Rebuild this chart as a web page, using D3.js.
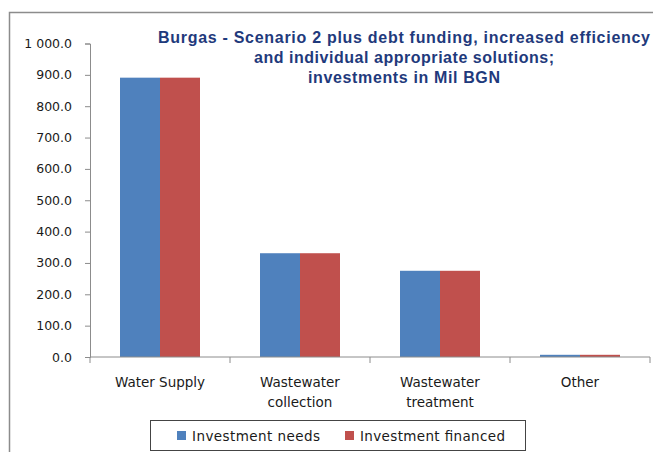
<!DOCTYPE html>
<html>
<head>
<meta charset="utf-8">
<script src="https://cdn.jsdelivr.net/npm/d3@7.9.0/dist/d3.min.js"></script>
<style>
  body { margin: 0; background: #fff; }
  svg { display: block; }
</style>
</head>
<body>
<div id="chart"></div>
<script>
// data
const categories = ['Water Supply', 'Wastewater collection', 'Wastewater treatment', 'Other'];
const categoryLines = [['Water Supply'], ['Wastewater', 'collection'], ['Wastewater', 'treatment'], ['Other']];
const seriesNames = ['Investment needs', 'Investment financed'];
const needs = [891, 331, 275, 7];
const financed = [891, 331, 275, 7];
const yTicks = [0, 100, 200, 300, 400, 500, 600, 700, 800, 900, 1000];
const titleLines = [
  'Burgas  - Scenario 2 plus debt funding, increased efficiency',
  'and individual appropriate solutions;',
  'investments  in Mil BGN'
];
const titleWidths = [492, 300, 192];
const legendWidths = [128, 145];

const colors = ['#4F81BD', '#C0504D'];
const width = 653, height = 452;

const svg = d3.select('#chart').append('svg')
  .attr('width', width)
  .attr('height', height);

// outer chart frame (runs off the right and bottom edge)
svg.append('path')
  .attr('d', `M9.5,${height + 2} V12.5 H${width + 2}`)
  .attr('fill', 'none')
  .attr('stroke', '#8c8c8c')
  .attr('stroke-width', 1.5);

const x0 = d3.scaleBand().domain(categories).range([90, 650]);
const x1 = d3.scaleBand().domain(seriesNames)
  .range([30, x0.bandwidth() - 30]);
const y = d3.scaleLinear().domain([0, 1000]).range([357, 43.5]);

const fmt = d3.formatLocale({ decimal: '.', thousands: ' ', grouping: [3], currency: ['', ''] }).format(',.1f');

// bars
const rows = categories.map((c, i) => ({ cat: c, vals: [needs[i], financed[i]] }));
const groups = svg.append('g').selectAll('g')
  .data(rows)
  .join('g')
  .attr('transform', d => `translate(${x0(d.cat)},0)`);

groups.selectAll('rect')
  .data(d => d.vals.map((v, k) => ({ name: seriesNames[k], v, k })))
  .join('rect')
  .attr('x', d => x1(d.name))
  .attr('y', d => y(d.v))
  .attr('width', x1.bandwidth())
  .attr('height', d => y(0) - y(d.v))
  .attr('fill', d => colors[d.k]);

// y axis
const yAxis = svg.append('g')
  .attr('transform', 'translate(90,0)')
  .call(d3.axisLeft(y).tickValues(yTicks).tickFormat(fmt).tickSize(5).tickPadding(13));
yAxis.select('.domain').attr('stroke', '#8c8c8c');
yAxis.selectAll('.tick line').attr('stroke', '#8c8c8c');
yAxis.selectAll('text')
  .attr('fill', '#1a1a1a')
  .style('font-family', '"DejaVu Sans", Verdana, sans-serif')
  .style('font-size', '12.5px');

// x axis: ticks at band edges
const xAxis = svg.append('g').attr('transform', 'translate(0,357)');
xAxis.append('line')
  .attr('x1', x0.range()[0]).attr('x2', x0.range()[1])
  .attr('stroke', '#8c8c8c');
const edges = categories.map(c => x0(c)).concat([x0.range()[1]]);
xAxis.selectAll('.edge')
  .data(edges)
  .join('line')
  .attr('class', 'edge')
  .attr('x1', d => d).attr('x2', d => d)
  .attr('y1', 0).attr('y2', 6)
  .attr('stroke', '#8c8c8c');

svg.append('g').selectAll('text')
  .data(categories)
  .join('text')
  .attr('x', d => x0(d) + x0.bandwidth() / 2)
  .attr('y', 387)
  .attr('text-anchor', 'middle')
  .attr('fill', '#1a1a1a')
  .style('font-family', '"DejaVu Sans", Verdana, sans-serif')
  .style('font-size', '13.5px')
  .each(function (d, i) {
    const t = d3.select(this);
    categoryLines[i].forEach((ln, j) => {
      t.append('tspan')
        .attr('x', x0(d) + x0.bandwidth() / 2)
        .attr('dy', j === 0 ? 0 : 20)
        .text(ln);
    });
  });

// title
svg.append('g').selectAll('text')
  .data(titleLines)
  .join('text')
  .attr('x', 404)
  .attr('y', (d, i) => 43 + i * 20)
  .attr('text-anchor', 'middle')
  .attr('fill', '#1F3A7C')
  .attr('textLength', (d, i) => titleWidths[i])
  .attr('lengthAdjust', 'spacing')
  .style('font-family', '"Liberation Sans Narrow", "Arial Narrow", "Liberation Sans", sans-serif')
  .style('font-weight', 'bold')
  .style('font-size', '16px')
  .text(d => d);

// legend
const legend = svg.append('g');
legend.append('rect')
  .attr('x', 150.5).attr('y', 420.5)
  .attr('width', 375).attr('height', 30)
  .attr('fill', '#fff')
  .attr('stroke', '#444')
  .attr('stroke-width', 1);
const legendX = [177, 345];
const items = legend.selectAll('g.item')
  .data(seriesNames)
  .join('g')
  .attr('class', 'item')
  .attr('transform', (d, i) => `translate(${legendX[i]},431)`);
items.append('rect')
  .attr('width', 9).attr('height', 9)
  .attr('fill', (d, i) => colors[i]);
items.append('text')
  .attr('x', 15).attr('y', 9.5)
  .attr('fill', '#1a1a1a')
  .attr('textLength', (d, i) => legendWidths[i])
  .attr('lengthAdjust', 'spacing')
  .style('font-family', '"DejaVu Sans", Verdana, sans-serif')
  .style('font-size', '13.5px')
  .text(d => d);
</script>
</body>
</html>
